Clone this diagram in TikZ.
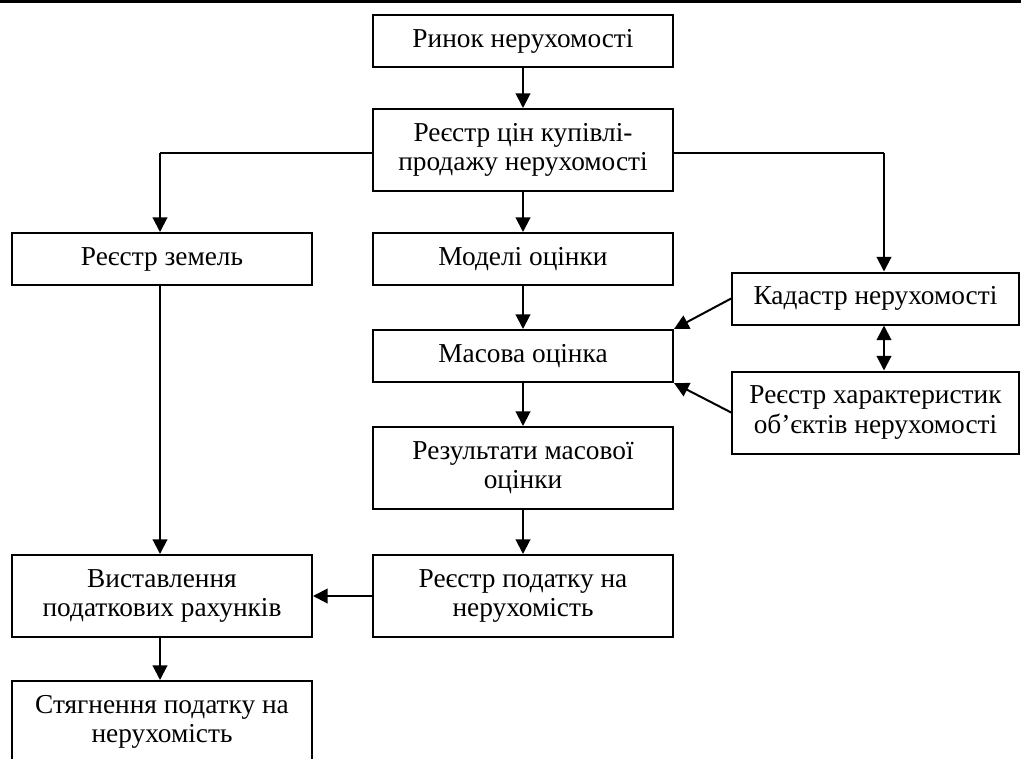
\documentclass[tikz,border=0pt]{standalone}
\usepackage{fontspec}
\setmainfont{Liberation Serif}
\usetikzlibrary{arrows.meta,calc}
\begin{document}
\begin{tikzpicture}[x=0.75pt,y=-0.75pt,
  box/.style={draw,line width=1.5pt,minimum width=225pt,align=center,font=\fontsize{20.5}{22}\selectfont,inner sep=2pt},
  h1/.style={minimum height=39pt},
  h2/.style={minimum height=61.5pt},
  arr/.style={line width=1.5pt,-{Triangle[width=11pt,length=11pt]}},
  darr/.style={line width=1.5pt,{Triangle[width=11pt,length=11pt]}-{Triangle[width=11pt,length=11pt]}},
  thinline/.style={line width=0.8pt}]
\useasboundingbox (0,0) rectangle (1021,758);
\clip (0,0) rectangle (1021,758);
\draw[line width=1.8pt] (0,1.5) -- (1021,1.5);

\node[box,h1] (A) at (523,41) {Ринок нерухомості};
\node[box,h2] (B) at (523,150) {Реєстр цін купівлі-\\продажу нерухомості};
\node[box,h1] (Z) at (162,259) {Реєстр земель};
\node[box,h1] (M) at (523,259) {Моделі оцінки};
\node[box,h1,minimum width=215pt] (K) at (875.5,298.5) {Кадастр нерухомості};
\node[box,h1] (O) at (523,356) {Масова оцінка};
\node[box,h2,minimum width=215pt] (R) at (875.5,412.5) {Реєстр характеристик\\об’єктів нерухомості};
\node[box,h2] (RM) at (523,468) {Результати масової\\оцінки};
\node[box,h2] (P) at (523,596) {Реєстр податку на\\нерухомість};
\node[box,h2] (V) at (162,596) {Виставлення\\податкових рахунків};
\node[box,h2] (S) at (162,722) {Стягнення податку на\\нерухомість};

\coordinate (zl) at (160,153);
\coordinate (kr) at (884,153);

\draw[arr] (A) -- (B);
\draw[thinline] (B.west |- zl) -- (zl);
\draw[arr] (zl) -- (zl |- Z.north);
\draw[thinline] (B.east |- kr) -- (kr);
\draw[arr] (kr) -- (kr |- K.north);
\draw[arr] (B) -- (M);
\draw[arr] (M) -- (O);
\draw[arr] (K.west) -- (O.north east);
\draw[arr] (R.west) -- (O.south east);
\draw[darr] (kr |- K.south) -- (kr |- R.north);
\draw[arr] (O) -- (RM);
\draw[arr] (RM) -- (P);
\draw[arr] (P) -- (V);
\draw[arr] (zl |- Z.south) -- (zl |- V.north);
\draw[arr] (zl |- V.south) -- (zl |- S.north);
\end{tikzpicture}
\end{document}
